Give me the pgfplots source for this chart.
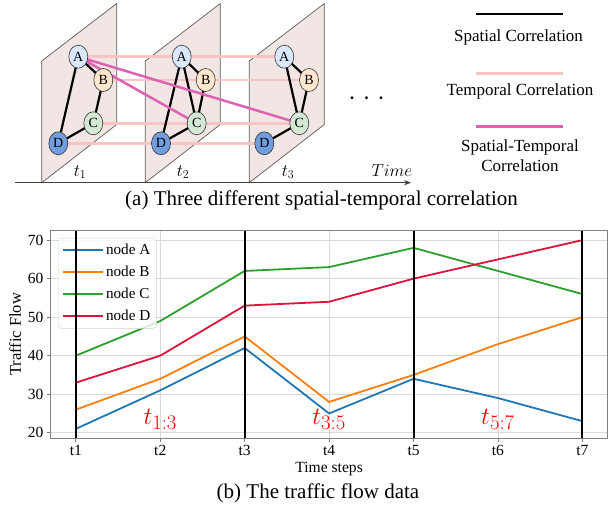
\documentclass[border=0pt]{standalone}
\usepackage{fontspec}
\setmainfont{Liberation Serif}
\usepackage{pgfplots}
\pgfplotsset{compat=1.18}
\usetikzlibrary{shapes.geometric,arrows.meta}

\definecolor{planefill}{RGB}{241,230,228}
\definecolor{planeedge}{RGB}{90,90,90}
\definecolor{cA}{RGB}{218,232,252}
\definecolor{cB}{RGB}{255,230,204}
\definecolor{cC}{RGB}{213,232,212}
\definecolor{cD}{RGB}{112,157,222}
\definecolor{tcol}{RGB}{247,196,196}
\definecolor{stcol}{RGB}{221,98,180}
\definecolor{lineA}{RGB}{31,119,180}
\definecolor{lineB}{RGB}{255,127,14}
\definecolor{lineC}{RGB}{44,160,44}
\definecolor{lineD}{RGB}{220,20,60}
\definecolor{spine}{RGB}{128,128,128}

\newcommand{\fs}[1]{\fontsize{#1}{#1}\selectfont}

\begin{document}
\begin{tikzpicture}
% ---------- (a) diagram, coordinates in pixels from the top left ----------
\begin{scope}[x=1pt,y=-1pt]
\path[use as bounding box] (0,0) rectangle (612,508);

% planes
\foreach \xl in {41.7,145.3,249.3}{
  \filldraw[fill=planefill, draw=planeedge, line width=0.7pt]
    (\xl,182.7) -- (\xl,61) -- (\xl+75,3.5) -- (\xl+75,124.5) -- cycle;
}
\draw[-{Stealth[length=7pt,width=5pt]}, line width=0.8pt, black!75] (15,182.7) -- (411,182.7);

% node centres
\coordinate (A1) at (78.3,56.7);  \coordinate (B1) at (103.3,80);
\coordinate (C1) at (93.3,123.3); \coordinate (D1) at (58.3,143.3);
\coordinate (A2) at (181.7,56.7); \coordinate (B2) at (205.7,80);
\coordinate (C2) at (196.7,123.3);\coordinate (D2) at (161,143.3);
\coordinate (A3) at (284.3,56.7); \coordinate (B3) at (309,80);
\coordinate (C3) at (299.3,123.3);\coordinate (D3) at (264.3,143.3);

% temporal correlation
\foreach \n in {A,B,C,D}{
  \draw[tcol, line width=2.5pt] (\n1) -- (\n2) -- (\n3);
}
% spatial correlation
\draw[black, line width=2.2pt] (D1) -- (A1) -- (B1) -- (C1) -- (D1);
\draw[black, line width=2.2pt] (D2) -- (A2) -- (B2) -- (C2) -- (D2) (A2) -- (C2);
\draw[black, line width=2.2pt] (C3) -- (A3) -- (B3) -- (C3) -- (D3);
% spatial-temporal correlation
\draw[stcol, line width=2.5pt] (A1) -- (C2) (A1) -- (C3);

\tikzset{nd/.style={ellipse, draw=black!80, line width=0.6pt, minimum width=19pt,
  minimum height=23pt, inner sep=0pt, font=\fs{14}}}
\foreach \k in {1,2,3}{
  \node[nd, fill=cA] at (A\k) {A};
  \node[nd, fill=cB] at (B\k) {B};
  \node[nd, fill=cC] at (C\k) {C};
  \node[nd, fill=cD] at (D\k) {D};
}

\node[font=\fs{18}] at (80,172) {$t_1$};
\node[font=\fs{18}] at (183,172) {$t_2$};
\node[font=\fs{18}] at (288,172) {$t_3$};
\node[font=\fs{19}] at (392,171) {$Time$};
\foreach \x in {352,366.5,381}{ \fill (\x,97.7) circle (1.6); }

% legend of the diagram
\draw[black, line width=2.7pt] (475.7,14) -- (563.3,14);
\node[font=\fs{17}] at (518.5,37.3) {Spatial Correlation};
\draw[tcol, line width=2.7pt] (475.7,73.3) -- (563.3,73.3);
\node[font=\fs{17}] at (520,91.7) {Temporal Correlation};
\draw[stcol, line width=2.7pt] (475.7,126.7) -- (563.3,126.7);
\node[font=\fs{17}, align=center] at (520,155.7) {Spatial-Temporal\\[3pt]Correlation};

\node[font=\fs{21}] at (321.5,200) {(a) Three different spatial-temporal correlation};
\node[font=\fs{21}] at (318,493) {(b) The traffic flow data};
\end{scope}

% ---------- (b) line chart ----------
\pgfplotsset{flowaxis/.style={
  at={(50.5pt,-438.3pt)}, anchor=south west,
  scale only axis, width=557.2pt, height=207.6pt,
  xmin=0.7, xmax=7.3, ymin=18.55, ymax=72.45,
}}
\begin{axis}[flowaxis,
  xtick={1,2,3,4,5,6,7},
  xticklabels={t1,t2,t3,t4,t5,t6,t7},
  ytick={20,30,40,50,60,70},
  tick pos=left,
  grid=major, grid style={gray!30, line width=0.8pt},
  axis line style={spine, line width=0.8pt},
  tick align=outside, major tick length=3.5pt,
  tick style={spine, line width=0.8pt},
  ticklabel style={font=\fs{15.5}},
  /pgf/number format/assume math mode=true,
  xlabel={Time steps}, ylabel={Traffic Flow},
  xlabel style={font=\fs{15.6}},
  ylabel style={font=\fs{16.5}},
  legend cell align=left,
  legend style={at={(0.0135,0.965)}, anchor=north west,
    draw=gray!35, rounded corners=3pt, fill=white, fill opacity=0.8,
    text opacity=1, font=\fs{15.2}, row sep=6pt, inner sep=4pt},
  legend image code/.code={\draw[#1] (0pt,0pt) -- (34pt,0pt);
    \path (0pt,0pt) -- (40pt,0pt);},
  every axis plot/.append style={line width=1.8pt},
]
\addplot[color=lineA] coordinates {(1,21) (2,31) (3,42) (4,25) (5,34) (6,29) (7,23)};
\addplot[color=lineB] coordinates {(1,26) (2,34) (3,45) (4,28) (5,35) (6,43) (7,50)};
\addplot[color=lineC] coordinates {(1,40) (2,49) (3,62) (4,63) (5,68) (6,62) (7,56)};
\addplot[color=lineD] coordinates {(1,33) (2,40) (3,53) (4,54) (5,60) (6,65) (7,70)};
\legend{node A, node B, node C, node D}
\end{axis}

% black separators and window labels, drawn above the legend
\begin{axis}[flowaxis, hide axis]
\addplot[black, line width=2pt] coordinates {(1,18.55) (1,72.45)};
\addplot[black, line width=2pt] coordinates {(3,18.55) (3,72.45)};
\addplot[black, line width=2pt] coordinates {(5,18.55) (5,72.45)};
\addplot[black, line width=2pt] coordinates {(7,18.55) (7,72.45)};
\node[red, font=\fs{30}, anchor=base] at (axis cs:2,22.2) {$t_{1:3}$};
\node[red, font=\fs{30}, anchor=base] at (axis cs:4,22.2) {$t_{3:5}$};
\node[red, font=\fs{30}, anchor=base] at (axis cs:6,22.2) {$t_{5:7}$};
\end{axis}
\end{tikzpicture}
\end{document}
